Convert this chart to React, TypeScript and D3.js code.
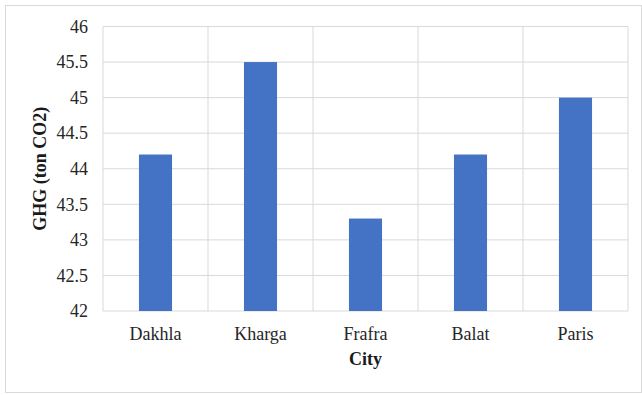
import React from "react";
import * as d3 from "d3";

// GHG emissions per city (ton CO2)
const cities: string[] = ["Dakhla", "Kharga", "Frafra", "Balat", "Paris"];
const ghgValues: number[] = [44.2, 45.5, 43.3, 44.2, 45.0];
const yTicks: number[] = [42, 42.5, 43, 43.5, 44, 44.5, 45, 45.5, 46];

const W = 642;
const H = 395;
const margin = { left: 103, right: 14, top: 26.5, bottom: 84 };
const font = "Liberation Serif, FreeSerif, Times New Roman, serif";
const gridColor = "#d9d9d9";
const barColor = "#4472C4";

export default function App() {
  const x0 = margin.left;
  const x1 = W - margin.right;
  const y0 = H - margin.bottom;
  const y1 = margin.top;

  const x = d3.scaleBand<string>().domain(cities).range([x0, x1]).paddingInner(0).paddingOuter(0);
  const y = d3.scaleLinear().domain([42, 46]).range([y0, y1]);
  const barW = x.bandwidth() * 0.315;

  const txt = { fontFamily: font, fontSize: 18 } as React.CSSProperties;

  return (
    <svg width={W} height={H} style={{ position: "absolute", left: 0, top: 0, background: "#fff" }}>
      <rect x={5.5} y={5.5} width={W - 6} height={H - 2.5 - 5.5} fill="#fff" stroke={gridColor} strokeWidth={1} />

      {/* horizontal gridlines */}
      {yTicks.map((t) => (
        <line key={"h" + t} x1={x0} x2={x1} y1={y(t)} y2={y(t)} stroke={gridColor} strokeWidth={1} />
      ))}
      {/* vertical category boundaries */}
      {cities.map((c) => (
        <line key={"v" + c} x1={x(c)!} x2={x(c)!} y1={y1} y2={y0} stroke={gridColor} strokeWidth={1} />
      ))}
      <line x1={x1} x2={x1} y1={y1} y2={y0} stroke={gridColor} strokeWidth={1} />

      {/* bars */}
      {cities.map((c, i) => (
        <rect
          key={"b" + c}
          x={x(c)! + x.bandwidth() / 2 - barW / 2}
          y={y(ghgValues[i])}
          width={barW}
          height={y0 - y(ghgValues[i])}
          fill={barColor}
        />
      ))}

      {/* y tick labels */}
      {yTicks.map((t) => (
        <text key={"yt" + t} x={88} y={y(t)} dy="0.35em" textAnchor="end" style={txt} fill="#262626">
          {String(t)}
        </text>
      ))}

      {/* category labels */}
      {cities.map((c) => (
        <text key={"xl" + c} x={x(c)! + x.bandwidth() / 2} y={340} textAnchor="middle" style={txt} fill="#262626">
          {c}
        </text>
      ))}

      {/* axis titles */}
      <text x={(x0 + x1) / 2} y={365} textAnchor="middle" style={{ ...txt, fontWeight: "bold" }} fill="#1a1a1a">
        City
      </text>
      <text
        transform={`translate(46, ${(y0 + y1) / 2}) rotate(-90)`}
        textAnchor="middle"
        style={{ ...txt, fontWeight: "bold" }}
        fill="#1a1a1a"
      >
        GHG (ton CO2)
      </text>
    </svg>
  );
}
